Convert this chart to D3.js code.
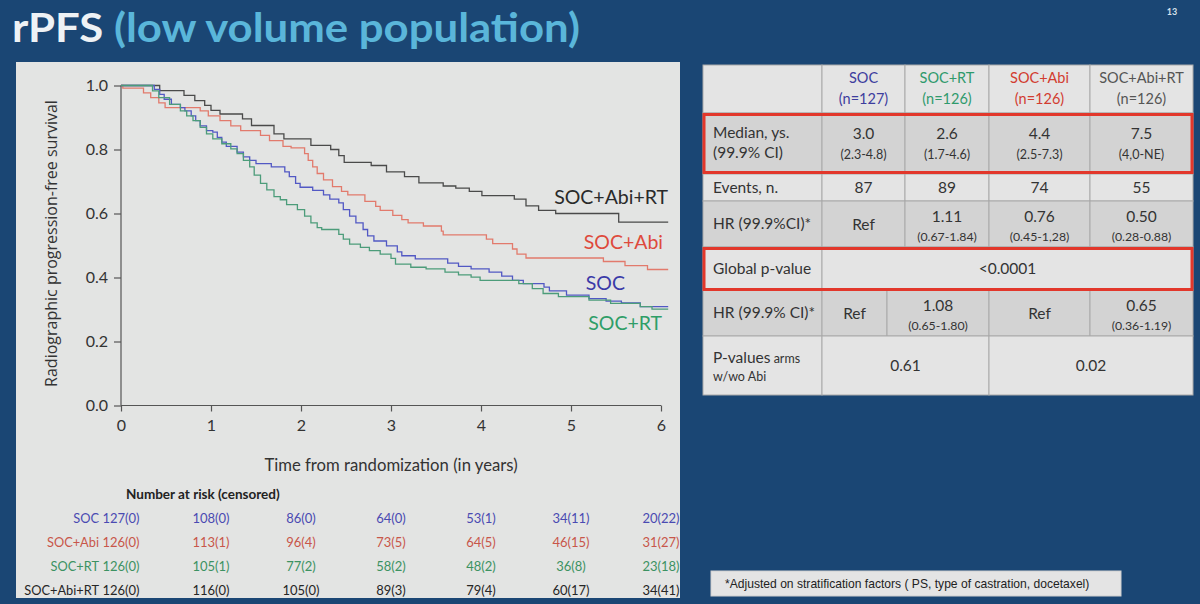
<!DOCTYPE html>
<html>
<head>
<meta charset="utf-8">
<script src="https://cdnjs.cloudflare.com/ajax/libs/d3/7.8.5/d3.min.js"></script>
<style>
  html, body { margin: 0; padding: 0; background: #1a4674; }
  svg { display: block; }
</style>
</head>
<body>
<svg id="chart" width="1200" height="604"></svg>
<script>
// ---------------- DATA ----------------
const seriesNames = ["SOC+Abi+RT", "SOC+Abi", "SOC", "SOC+RT"];
const seriesColors = ["#4a4a4a", "#e27a6c", "#5258c4", "#4c9c7a"];
const labelColors = ["#2a2a2a", "#de4a3c", "#3a3aa8", "#2f9e68"];
const endTime = 6.08;

// Kaplan-Meier step points: [time, survival from that time on]
const socAbiRT = [[0,1],[0.43,0.984],[0.70,0.969],[0.82,0.953],[0.93,0.938],[1.0,0.922],[1.1,0.911],[1.35,0.896],[1.45,0.875],[1.70,0.849],[1.81,0.833],[2.11,0.813],[2.33,0.80],[2.42,0.781],[2.48,0.76],[2.78,0.75],[2.95,0.73],[3.15,0.715],[3.31,0.696],[3.58,0.686],[3.72,0.679],[3.87,0.669],[4.01,0.656],[4.37,0.645],[4.50,0.624],[4.64,0.61],[4.83,0.60],[5.53,0.573]];
const socAbi = [[0,1],[0.02,0.992],[0.25,0.977],[0.33,0.962],[0.42,0.946],[0.49,0.931],[0.88,0.921],[0.97,0.905],[1.1,0.89],[1.22,0.874],[1.33,0.859],[1.55,0.844],[1.65,0.828],[1.80,0.81],[1.89,0.805],[2.04,0.787],[2.08,0.766],[2.13,0.746],[2.18,0.725],[2.25,0.705],[2.35,0.684],[2.45,0.669],[2.52,0.658],[2.71,0.638],[2.83,0.622],[2.88,0.61],[3.02,0.594],[3.12,0.581],[3.19,0.571],[3.36,0.561],[3.56,0.545],[3.58,0.533],[4.06,0.52],[4.13,0.506],[4.35,0.489],[4.40,0.473],[4.50,0.461],[5.36,0.45],[5.60,0.437],[5.85,0.425]];
const soc = [[0,1],[0.37,0.988],[0.43,0.972],[0.48,0.957],[0.56,0.941],[0.66,0.931],[0.71,0.921],[0.78,0.905],[0.83,0.89],[0.88,0.874],[0.95,0.859],[1.02,0.854],[1.07,0.838],[1.12,0.823],[1.17,0.81],[1.29,0.792],[1.36,0.777],[1.43,0.766],[1.50,0.756],[1.67,0.746],[1.82,0.73],[1.87,0.715],[1.94,0.694],[1.99,0.682],[2.13,0.672],[2.25,0.658],[2.32,0.645],[2.42,0.633],[2.47,0.612],[2.54,0.592],[2.61,0.571],[2.69,0.55],[2.74,0.53],[2.81,0.514],[2.95,0.499],[3.07,0.48],[3.12,0.468],[3.27,0.458],[3.63,0.445],[3.75,0.435],[3.89,0.427],[4.09,0.417],[4.23,0.404],[4.35,0.391],[4.47,0.381],[4.70,0.37],[4.76,0.358],[4.95,0.345],[5.20,0.334],[5.39,0.326],[5.56,0.321],[5.77,0.309]];
const socRT = [[0,1],[0.35,0.983],[0.42,0.962],[0.54,0.941],[0.66,0.921],[0.73,0.905],[0.80,0.89],[0.88,0.869],[0.95,0.849],[1.02,0.833],[1.12,0.818],[1.22,0.802],[1.29,0.787],[1.36,0.766],[1.43,0.746],[1.48,0.72],[1.55,0.694],[1.62,0.674],[1.70,0.653],[1.77,0.643],[1.84,0.628],[1.96,0.612],[2.04,0.592],[2.11,0.571],[2.18,0.556],[2.23,0.55],[2.42,0.535],[2.47,0.52],[2.54,0.504],[2.66,0.494],[2.76,0.484],[2.88,0.473],[3.0,0.46],[3.05,0.442],[3.22,0.432],[3.39,0.427],[3.60,0.417],[3.75,0.408],[3.89,0.401],[3.99,0.391],[4.42,0.381],[4.57,0.365],[4.69,0.35],[4.86,0.34],[5.20,0.329],[5.44,0.319],[5.77,0.309],[5.90,0.301]];
const seriesData = [socAbiRT, socAbi, soc, socRT];

const xTicks = [0, 1, 2, 3, 4, 5, 6];
const yTicks = [0, 0.2, 0.4, 0.6, 0.8, 1.0];

// Number at risk (censored)
const riskNames = ["SOC", "SOC+Abi", "SOC+RT", "SOC+Abi+RT"];
const riskColors = ["#4a4ab2", "#c8564a", "#3c9262", "#262626"];
const riskSOC = ["127(0)", "108(0)", "86(0)", "64(0)", "53(1)", "34(11)", "20(22)"];
const riskSOCAbi = ["126(0)", "113(1)", "96(4)", "73(5)", "64(5)", "46(15)", "31(27)"];
const riskSOCRT = ["126(0)", "105(1)", "77(2)", "58(2)", "48(2)", "36(8)", "23(18)"];
const riskSOCAbiRT = ["126(0)", "116(0)", "105(0)", "89(3)", "79(4)", "60(17)", "34(41)"];
const riskRows = [riskSOC, riskSOCAbi, riskSOCRT, riskSOCAbiRT];

// Summary table
const armNames = ["SOC", "SOC+RT", "SOC+Abi", "SOC+Abi+RT"];
const armN = ["(n=127)", "(n=126)", "(n=126)", "(n=126)"];
const armColors = ["#3d3d9e", "#2f9a6c", "#d23c30", "#555555"];
const medians = ["3.0", "2.6", "4.4", "7.5"];
const medianCI = ["(2.3-4.8)", "(1.7-4.6)", "(2.5-7.3)", "(4,0-NE)"];
const events = ["87", "89", "74", "55"];
const hr = ["Ref", "1.11", "0.76", "0.50"];
const hrCI = ["", "(0.67-1.84)", "(0.45-1,28)", "(0.28-0.88)"];
const globalP = "<0.0001";
const hr2 = ["Ref", "1.08", "Ref", "0.65"];
const hr2CI = ["", "(0.65-1.80)", "", "(0.36-1.19)"];
const pArms = ["0.61", "0.02"];

// ---------------- DRAW ----------------
const svg = d3.select("#chart");
const FONT = "Lato, 'Open Sans', sans-serif";

svg.append("rect").attr("width", 1200).attr("height", 604).attr("fill", "#1a4674");

// Title
const title = svg.append("text").attr("x", 12).attr("y", 42)
  .attr("font-family", FONT).attr("font-weight", 700).attr("font-size", 40)
  .attr("textLength", 568).attr("lengthAdjust", "spacingAndGlyphs");
title.append("tspan").attr("fill", "#eef2f5").text("rPFS ");
title.append("tspan").attr("fill", "#5ab6da").text("(low volume population)");
svg.append("text").attr("x", 1172).attr("y", 15).attr("text-anchor", "middle")
  .attr("font-family", FONT).attr("font-size", 9).attr("font-weight", 700)
  .attr("fill", "#d8e0ea").text("13");

// Chart panel
svg.append("rect").attr("x", 16).attr("y", 62).attr("width", 664).attr("height", 536)
  .attr("fill", "#e3e4e3");

const x = d3.scaleLinear().domain([0, 6]).range([121, 661]);
const y = d3.scaleLinear().domain([0, 1]).range([405.5, 85.5]);

const axisColor = "#555";
const gx = svg.append("g").attr("transform", "translate(0,405.5)")
  .call(d3.axisBottom(x).tickValues(xTicks).tickSize(6).tickPadding(8).tickFormat(d3.format("d")));
const gy = svg.append("g").attr("transform", "translate(121,0)")
  .call(d3.axisLeft(y).tickValues(yTicks).tickSize(7).tickPadding(6).tickFormat(d3.format(".1f")));
[gx, gy].forEach(g => {
  g.select(".domain").attr("stroke", axisColor).attr("stroke-width", 1.2);
  g.selectAll(".tick line").attr("stroke", axisColor).attr("stroke-width", 1.2);
  g.selectAll(".tick text").attr("fill", "#333").attr("font-family", FONT).attr("font-size", 16);
});
gy.select(".domain").attr("d", `M0,${y(0)}V${y(1)}`);
gx.select(".domain").attr("d", `M${x(0)},0H${x(6)}`);

svg.append("text").attr("transform", `translate(57,${y(0.5) - 2}) rotate(-90)`)
  .attr("text-anchor", "middle").attr("font-family", "'Open Sans', sans-serif")
  .attr("font-size", 16).attr("fill", "#333").text("Radiographic progression-free survival");
svg.append("text").attr("x", 391).attr("y", 471).attr("text-anchor", "middle")
  .attr("font-family", FONT).attr("font-size", 16.7).attr("fill", "#333")
  .text("Time from randomization (in years)");

// Curves
const line = d3.line().x(d => x(d[0])).y(d => y(d[1])).curve(d3.curveStepAfter);
seriesData.forEach((s, i) => {
  const pts = s.concat([[endTime, s[s.length - 1][1]]]);
  svg.append("path").attr("d", line(pts)).attr("fill", "none")
    .attr("stroke", seriesColors[i]).attr("stroke-width", 1.3);
});

// Curve labels
const labelPos = [[668, 204], [663, 249], [625, 290], [662, 330]];
seriesNames.forEach((n, i) => {
  svg.append("text").attr("x", labelPos[i][0]).attr("y", labelPos[i][1])
    .attr("text-anchor", "end").attr("font-family", FONT).attr("font-size", 19.5)
    .attr("fill", labelColors[i]).text(n);
});

// Number at risk
svg.append("text").attr("x", 126).attr("y", 499).attr("font-family", FONT)
  .attr("font-weight", 700).attr("font-size", 13.5).attr("fill", "#222")
  .text("Number at risk (censored)");
riskRows.forEach((row, r) => {
  const yy = 523 + r * 24;
  svg.append("text").attr("x", 99).attr("y", yy).attr("text-anchor", "end")
    .attr("font-family", FONT).attr("font-size", 12.8).attr("fill", riskColors[r]).text(riskNames[r]);
  row.forEach((v, k) => {
    svg.append("text").attr("x", x(xTicks[k])).attr("y", yy).attr("text-anchor", "middle")
      .attr("font-family", FONT).attr("font-size", 13).attr("fill", riskColors[r]).text(v);
  });
});

// ---------------- TABLE ----------------
const cols = [703, 822, 905, 989, 1090, 1193];
const rows = [65, 113, 174, 201, 247, 290, 336, 395];
const light = "#e4e4e4", dark = "#d3d3d3", border = "#a9a9a9";
const rowFill = [light, dark, light, dark, light, dark, light];
const tg = svg.append("g");
function cell(x0, x1, y0, y1, fill) {
  tg.append("rect").attr("x", x0).attr("y", y0).attr("width", x1 - x0).attr("height", y1 - y0)
    .attr("fill", fill).attr("stroke", border).attr("stroke-width", 1);
}
function txt(xx, yy, s, size, color, anchor, weight) {
  return tg.append("text").attr("x", xx).attr("y", yy).attr("text-anchor", anchor || "middle")
    .attr("font-family", FONT).attr("font-size", size).attr("fill", color || "#333")
    .attr("font-weight", weight || 400).text(s);
}
[0, 1, 2, 3].forEach(r => {
  for (let c = 0; c < 5; c++) cell(cols[c], cols[c + 1], rows[r], rows[r + 1], rowFill[r]);
});
// global p row
cell(cols[0], cols[1], rows[4], rows[5], rowFill[4]);
cell(cols[1], cols[5], rows[4], rows[5], rowFill[4]);
// HR2 row
const hr2Cols = [822, 887, 989, 1090, 1193];
cell(cols[0], cols[1], rows[5], rows[6], rowFill[5]);
for (let c = 0; c < 4; c++) cell(hr2Cols[c], hr2Cols[c + 1], rows[5], rows[6], rowFill[5]);
// p row
cell(cols[0], cols[1], rows[6], rows[7], rowFill[6]);
cell(822, 989, rows[6], rows[7], rowFill[6]);
cell(989, 1193, rows[6], rows[7], rowFill[6]);

const cx = c => (cols[c + 1] + cols[c + 2]) / 2;
const LX = 713;
const LS = 15.5;
// header
armNames.forEach((n, i) => {
  txt(cx(i), 83, n, 14.5, armColors[i]);
  txt(cx(i), 104, armN[i], 14.5, armColors[i]);
});
// median
txt(LX, 138, "Median, ys.", LS, "#333", "start");
txt(LX, 158, "(99.9% CI)", LS, "#333", "start");
medians.forEach((v, i) => { txt(cx(i), 139, v, 15.5, "#333"); txt(cx(i), 159, medianCI[i], 12.5, "#333"); });
// events
txt(LX, 193, "Events, n.", LS, "#333", "start");
events.forEach((v, i) => txt(cx(i), 193, v, 15.5, "#333"));
// HR
txt(LX, 229, "HR (99.9%CI)*", LS, "#333", "start");
hr.forEach((v, i) => {
  if (hrCI[i]) { txt(cx(i), 222, v, 15.5, "#333"); txt(cx(i), 241, hrCI[i], 12.3, "#333"); }
  else txt(cx(i), 230, v, 15.5, "#333");
});
// global p
txt(LX, 274, "Global p-value", LS, "#333", "start");
txt((cols[1] + cols[5]) / 2, 274, globalP, 15.5, "#333");
// HR2
txt(LX, 318, "HR (99.9% CI)*", LS, "#333", "start");
hr2.forEach((v, i) => {
  const mx = (hr2Cols[i] + hr2Cols[i + 1]) / 2;
  if (hr2CI[i]) { txt(mx, 311, v, 15.5, "#333"); txt(mx, 330, hr2CI[i], 12.3, "#333"); }
  else txt(mx, 319, v, 15.5, "#333");
});
// p-values arms
const pl = txt(LX, 363, "P-values", LS, "#333", "start");
pl.append("tspan").attr("font-size", 12.5).text(" arms");
txt(LX, 381, "w/wo Abi", 12.5, "#333", "start");
txt((822 + 989) / 2, 371, pArms[0], 15.5, "#333");
txt((989 + 1193) / 2, 371, pArms[1], 15.5, "#333");

// red highlight boxes
[[114.5, 172.5], [248.5, 289.5]].forEach(b => {
  tg.append("rect").attr("x", 704).attr("y", b[0]).attr("width", 488).attr("height", b[1] - b[0])
    .attr("fill", "none").attr("stroke", "#e2372b").attr("stroke-width", 3);
});

// footnote
svg.append("rect").attr("x", 711).attr("y", 571).attr("width", 410).attr("height", 25)
  .attr("fill", "#e4e4e4").attr("stroke", "#cfcfcf");
svg.append("text").attr("x", 725).attr("y", 587.5).attr("font-family", "'Liberation Sans', Arial, sans-serif")
  .attr("font-size", 12.1).attr("fill", "#222")
  .text("*Adjusted on stratification factors ( PS, type of castration, docetaxel)");
</script>
</body>
</html>
